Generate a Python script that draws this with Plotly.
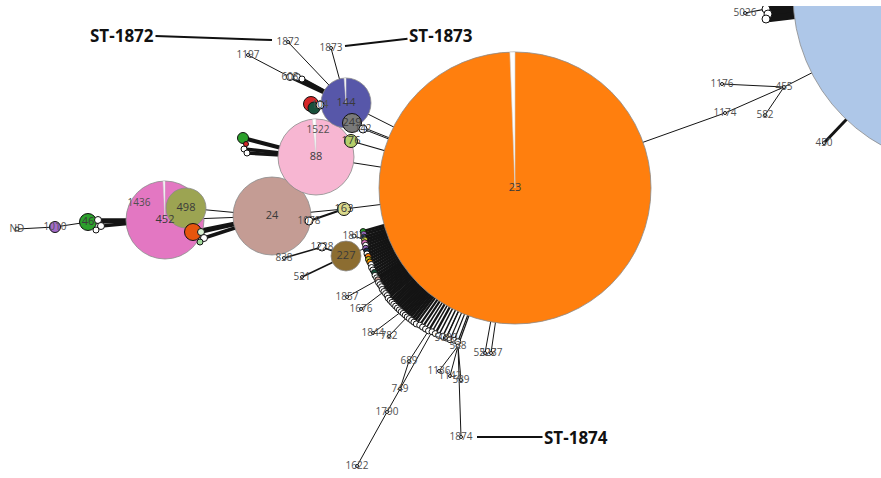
import math
import plotly.graph_objects as go

# ---------------- data: nodes of the minimum spanning tree ----------------
node_id = ["23", "LB", "144", "88", "24", "452", "498", "249", "176", "142",
           "163", "227", "46", "1010", "ND", "r104", "g104", "104", "o498", "g88",
           "r88", "w88a", "w88b", "c1197a", "c1197b", "c1197c", "1197", "1872", "1873", "w46a",
           "w46b", "w46c", "w498a", "w498b", "w498c", "1078", "1228", "838", "521", "1816",
           "1436", "1522", "1174", "455", "1176", "582", "450", "5026", "c5a", "c5b",
           "c5c", "5080", "528", "1136", "1142", "539", "1874", "5227", "5237", "1857",
           "1676", "1844", "782", "689", "749", "1790", "1622"]
node_x = [515, 965, 346, 316, 272, 165, 186, 352, 351, 363,
          344, 346, 88, 55, 17, 311, 314, 320, 193, 243,
          246, 244, 247, 290, 297, 302, 248, 288, 331, 98,
          101, 96, 201, 204, 200, 309, 322, 284, 302, 354,
          139, 318, 725, 784, 722, 765, 824, 745, 766, 768,
          766, 446, 458, 439, 450, 461, 461, 485, 491, 347,
          361, 373, 389, 409, 400, 387, 357]
node_y = [188, -5, 103, 157, 216, 220, 208, 123, 141, 129,
          209, 256, 222, 227, 229, 104, 108, 105, 232, 138,
          144, 149, 153, 77, 77, 79, 55, 42, 48, 220,
          226, 230, 232, 238, 242, 221, 247, 258, 277, 236,
          203, 130, 113, 87, 84, 115, 143, 13, 9, 14,
          19, 338, 346, 371, 376, 380, 437, 353, 353, 297,
          309, 333, 336, 361, 389, 412, 466]
node_d = [272, 344, 50, 76, 78, 78, 40, 19, 13, 8,
          13, 30, 17, 11, 4, 15, 12, 8, 17, 11,
          5, 6, 6, 7, 7, 6, 3, 3, 3, 7,
          7, 6, 7, 7, 6, 8, 8, 3, 3, 4,
          0, 0, 3, 3, 3, 3, 3, 3, 8, 8,
          8, 3, 4, 3, 3, 3, 3, 3, 3, 3,
          3, 3, 3, 3, 3, 3, 3]
node_color = ["#ff7f0e", "#aec7e8", "#5757a9", "#f7b6d2", "#c49c94", "#e377c2", "#9ca452", "#7a7a7a", "#b5cf6b", "#e8eef8",
              "#dbdb8d", "#8c6d31", "#2ca02c", "#a36bc9", "#ffffff", "#d62728", "#17503a", "#dde6f5", "#e6550d", "#2ca02c",
              "#d62728", "#ffffff", "#ffffff", "#ffffff", "#ffffff", "#ffffff", "#ffffff", "#ffffff", "#ffffff", "#ffffff",
              "#ffffff", "#ffffff", "#d9f0d3", "#ffffff", "#a1d99b", "#ffffff", "#ffffff", "#ffffff", "#ffffff", "#ffffff",
              "#ffffff", "#ffffff", "#ffffff", "#ffffff", "#ffffff", "#ffffff", "#ffffff", "#ffffff", "#ffffff", "#ffffff",
              "#ffffff", "#ffffff", "#ffffff", "#ffffff", "#ffffff", "#ffffff", "#ffffff", "#ffffff", "#ffffff", "#ffffff",
              "#ffffff", "#ffffff", "#ffffff", "#ffffff", "#ffffff", "#ffffff", "#ffffff"]
node_label = ["23", "", "144", "88", "24", "452", "498", "249", "176", "142",
              "163", "227", "46", "1010", "ND", "", "", "104", "", "",
              "", "", "", "608", "", "", "1197", "1872", "1873", "",
              "", "", "", "", "", "1078", "1228", "838", "521", "1816",
              "1436", "1522", "1174", "455", "1176", "582", "450", "5026", "", "",
              "", "5080", "528", "1136", "1142", "539", "1874", "5227", "5237", "1857",
              "1676", "1844", "782", "689", "749", "1790", "1622"]

# small single-locus variants arranged around ST-23 (angle in degrees, distance in px)
arc_angle = [164, 163, 162, 161, 160, 159, 158, 157, 156, 155,
             154, 153, 152, 151, 150, 149, 148, 147, 146.2, 145.3,
             144.4, 143.5, 142.6, 141.7, 140.8, 139.9, 139, 138, 137.1, 136.2,
             135.3, 134.4, 133.5, 132.6, 131.7, 130.8, 129.9, 129, 128, 127,
             126, 124.8, 123.6, 122.4, 121.2, 120, 118.7, 117.4, 116, 114.6,
             113.2, 111.8, 110.4]
arc_dist = [158, 158, 159, 159, 160, 160, 161, 161, 162, 162,
            163, 163, 163, 164, 164, 164, 165, 165, 165, 166,
            166, 166, 167, 167, 167, 167, 168, 168, 168, 168,
            168, 168, 168, 168, 168, 168, 168, 168, 168, 168,
            168, 167, 167, 167, 167, 166, 166, 166, 165, 165,
            165, 164, 164]
arc_color = ["#2ca02c", "#9467bd", "#17324d", "#dbdb3d", "#e377c2", "#ffffff", "#9467bd", "#17324d", "#ffffff", "#ff7f0e",
             "#bcbd22", "#ff9900", "#ffffff", "#ffffff", "#f0f0f0", "#17503a", "#ffffff", "#ffffff", "#c49c94", "#ffffff",
             "#ffffff", "#ffffff", "#ffffff", "#ffffff", "#ffffff", "#ffffff", "#ffffff", "#ffffff", "#ffffff", "#ffffff",
             "#ffffff", "#ffffff", "#ffffff", "#ffffff", "#ffffff", "#ffffff", "#ffffff", "#ffffff", "#ffffff", "#ffffff",
             "#ffffff", "#ffffff", "#ffffff", "#ffffff", "#ffffff", "#ffffff", "#ffffff", "#ffffff", "#ffffff", "#ffffff",
             "#ffffff", "#ffffff", "#ffffff"]
arc_w = [3, 3, 3, 3, 3, 3, 3, 3, 3, 3,
         3, 3, 3, 3, 3, 3, 3, 3, 3, 3,
         3, 3, 3, 3, 3, 3, 3, 3, 3, 3,
         3, 3, 3, 3, 3, 3, 3, 3, 3, 3,
         2.2, 2.2, 2.2, 1.5, 2.2, 1.5, 2.2, 1.5, 1.5, 1.2,
         1.2, 1.2, 1.2]

# edges: (from, to, width)
edge_from = ["23", "23", "23", "23", "23", "23", "1174", "455", "455", "455",
             "LB", "LB", "LB", "LB", "5026", "144", "144", "144", "144", "144",
             "c1197a", "144", "88", "88", "88", "24", "24", "24", "24", "24",
             "24", "163", "452", "452", "452", "46", "1010", "227", "1228", "227",
             "23", "23", "23", "23", "528", "528", "528", "528", "a18", "a23",
             "a33", "a36", "a44", "689", "749", "1790", "a45", "23", "23", "a3"]
edge_to = ["144", "249", "176", "88", "163", "1174", "455", "LB", "1176", "582",
           "450", "c5a", "c5b", "c5c", "c5a", "1872", "1873", "c1197a", "c1197b", "c1197c",
           "1197", "r104", "g88", "w88a", "w88b", "498", "452", "o498", "w498a", "w498b",
           "163", "1078", "46", "w46a", "w46b", "1010", "ND", "1228", "838", "521",
           "528", "5080", "5227", "5237", "1136", "1142", "539", "1874", "1857", "1676",
           "1844", "782", "689", "749", "1790", "1622", "749", "142", "227", "1816"]
edge_w = [1, 1, 1.2, 1, 1, 1, 1, 1, 1, 1,
          3, 7, 7, 7, 1.2, 1, 1, 3.5, 3.5, 3.5,
          1, 1, 4, 3.5, 3.5, 1, 1, 4, 3.5, 3.5,
          1, 2, 4, 3.5, 3.5, 1, 1, 1.5, 1.5, 1.5,
          1.2, 1.2, 1, 1, 1, 1, 1, 1, 1, 1,
          1, 1, 1, 1, 1, 1, 1, 1, 1, 1]

# share of isolates of another group (white slice) for the large nodes
slice_node = ["23", "144", "88", "452"]
slice_frac = [0.006, 0.012, 0.015, 0.008]

# highlighted sequence types
callout_text = ["ST-1872", "ST-1873", "ST-1874"]
callout_tx = [122, 441, 576]
callout_ty = [35, 35, 437]
callout_px = [272, 345, 477]
callout_py = [40, 46, 437]

# ---------------- build ----------------
pos = {}
size = {}
color = {}
label = {}
for i, n in enumerate(node_id):
    pos[n] = (node_x[i], node_y[i])
    size[n] = node_d[i]
    color[n] = node_color[i]
    label[n] = node_label[i]

cx, cy = pos["23"]
for k, (a, r) in enumerate(zip(arc_angle, arc_dist)):
    n = "a%d" % k
    pos[n] = (cx + r * math.cos(math.radians(a)), cy + r * math.sin(math.radians(a)))
    size[n] = 6
    color[n] = arc_color[k]
    label[n] = ""
    edge_from.append("23")
    edge_to.append(n)
    edge_w.append(arc_w[k])

fig = go.Figure()

# edges grouped by width
widths = sorted(set(edge_w))
for w in widths:
    xs, ys = [], []
    for f, t, ew in zip(edge_from, edge_to, edge_w):
        if ew != w:
            continue
        xs += [pos[f][0], pos[t][0], None]
        ys += [pos[f][1], pos[t][1], None]
    fig.add_trace(go.Scatter(x=xs, y=ys, mode="lines",
                             line=dict(color="#141414", width=w),
                             hoverinfo="skip", showlegend=False))

# nodes, largest first so smaller ones sit on top
names = [n for n in pos if size[n] > 0]
names.sort(key=lambda n: -size[n])
fig.add_trace(go.Scatter(
    x=[pos[n][0] for n in names], y=[pos[n][1] for n in names],
    mode="markers",
    marker=dict(size=[size[n] for n in names], color=[color[n] for n in names],
                opacity=1,
                line=dict(color=["#8a8a8a" if size[n] > 20 else "#111111" for n in names],
                          width=[0.8 if size[n] > 20 else 1 for n in names])),
    hoverinfo="skip", showlegend=False))

# white slices
for n, fr in zip(slice_node, slice_frac):
    x0, y0 = pos[n]
    r = size[n] / 2.0
    th = fr * 360.0
    steps = 6
    px = [x0]
    py = [y0]
    for s in range(steps + 1):
        a = math.radians(-90 - th * s / steps)
        px.append(x0 + r * math.cos(a))
        py.append(y0 + r * math.sin(a))
    px.append(x0)
    py.append(y0)
    fig.add_trace(go.Scatter(x=px, y=py, mode="lines", fill="toself",
                             fillcolor="#ffffff", line=dict(color="#cfcfcf", width=0.6),
                             hoverinfo="skip", showlegend=False))

# labels
big = [n for n in node_id if label[n] and size[n] > 12]
small = [n for n in node_id if label[n] and size[n] <= 12]
fig.add_trace(go.Scatter(
    x=[pos[n][0] for n in big], y=[pos[n][1] for n in big], mode="text",
    text=[label[n] for n in big],
    textfont=dict(family="Open Sans", size=11, color="#3a3a3a"),
    hoverinfo="skip", showlegend=False))
fig.add_trace(go.Scatter(
    x=[pos[n][0] for n in small], y=[pos[n][1] for n in small], mode="text",
    text=[label[n] for n in small],
    textfont=dict(family="Open Sans", size=10, color="#505050"),
    hoverinfo="skip", showlegend=False))

for t, tx, ty, px_, py_ in zip(callout_text, callout_tx, callout_ty, callout_px, callout_py):
    fig.add_annotation(x=px_, y=py_, ax=tx, ay=ty, axref="x", ayref="y",
                       xref="x", yref="y", text="<b>%s</b>" % t,
                       showarrow=True, arrowhead=0, arrowwidth=2, arrowcolor="#111111",
                       font=dict(family="Open Sans", size=17, color="#111111"))

fig.update_layout(
    width=881, height=478,
    margin=dict(l=0, r=0, t=6, b=0),
    paper_bgcolor="#ffffff", plot_bgcolor="#ffffff",
    xaxis=dict(range=[0, 881], visible=False, fixedrange=True),
    yaxis=dict(range=[478, 6], visible=False, fixedrange=True),
    showlegend=False,
)
fig.write_html("out.html")
